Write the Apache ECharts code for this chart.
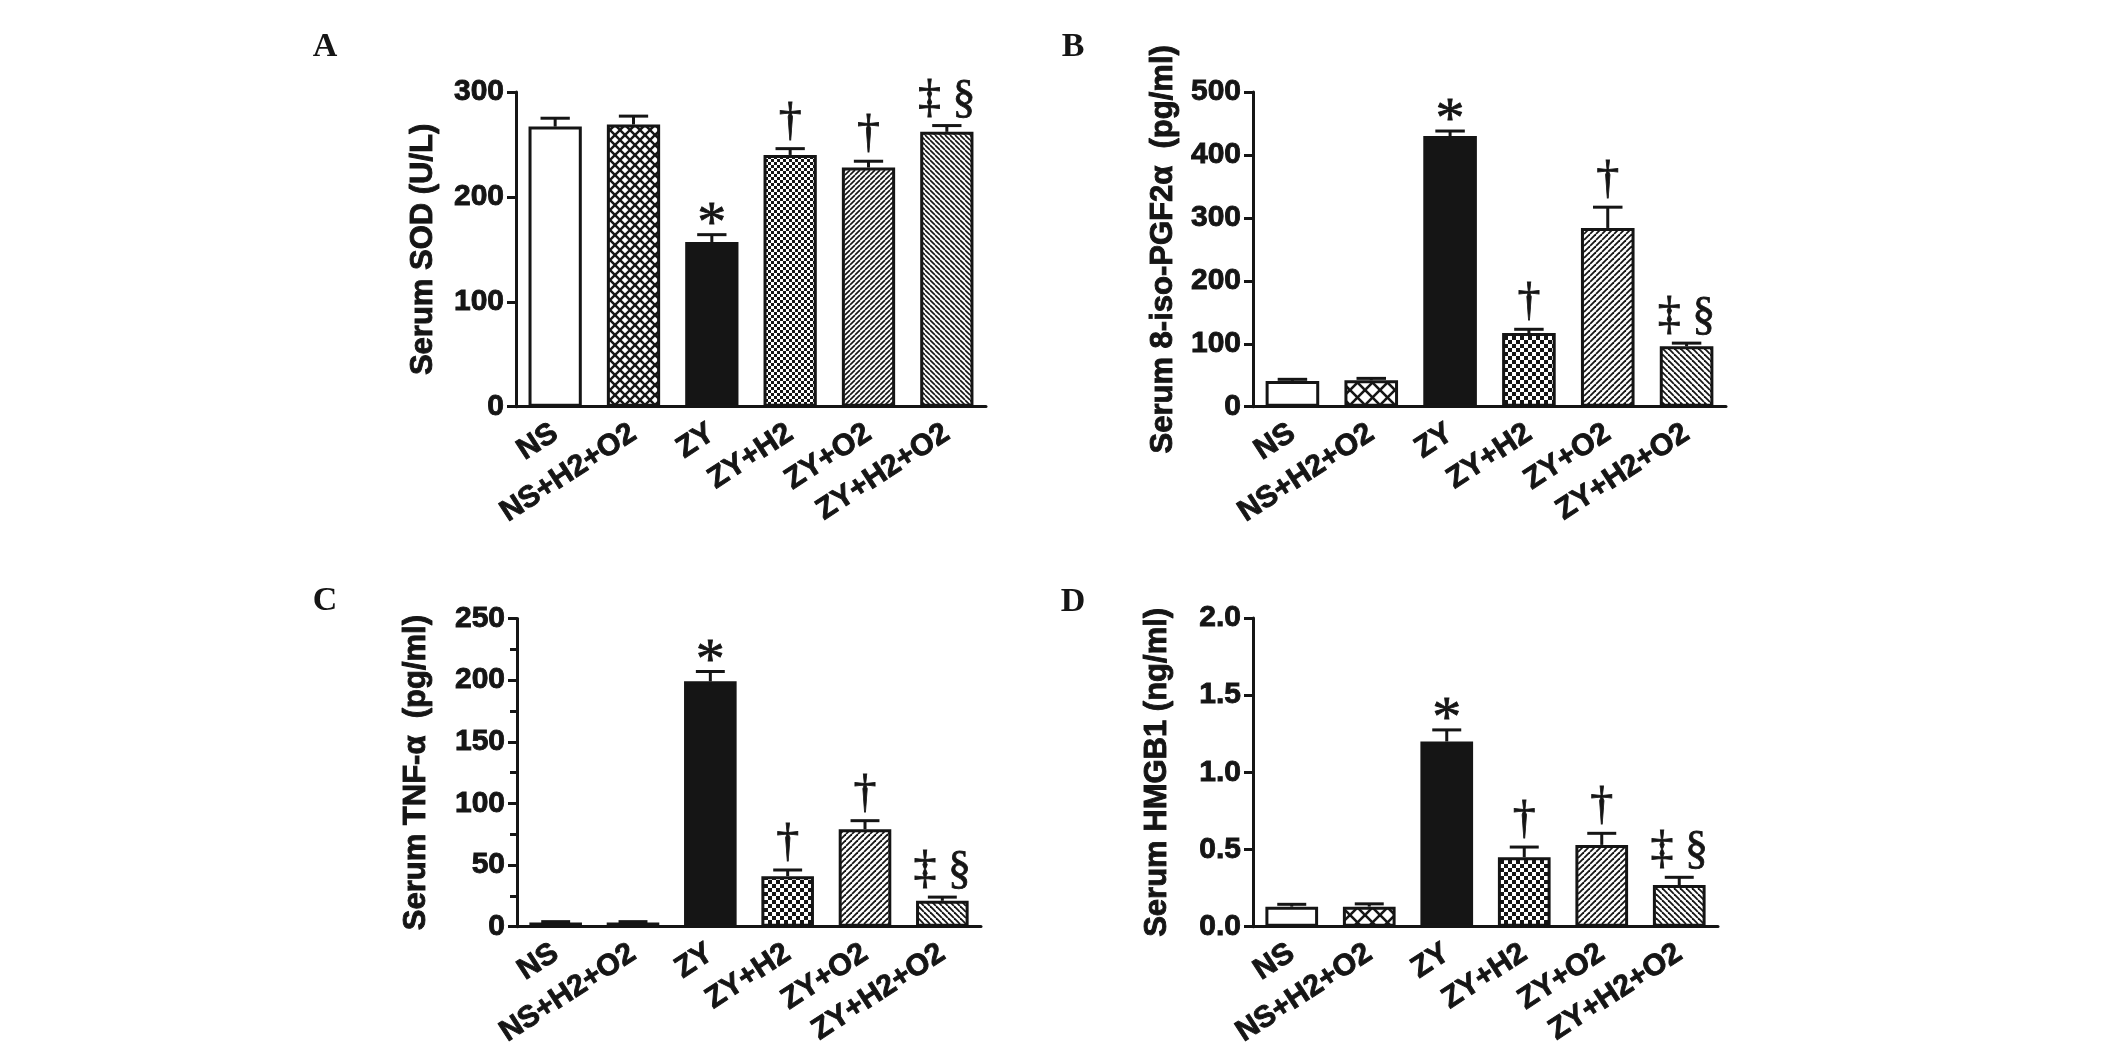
<!DOCTYPE html>
<html>
<head>
<meta charset="utf-8">
<script src="https://cdn.jsdelivr.net/npm/echarts@6/dist/echarts.min.js"></script>
<style>
  html, body { margin: 0; padding: 0; background: #fff; }
  #chart { width: 2126px; height: 1054px; }
</style>
</head>
<body>
<div id="chart"></div>
<script>
// ---------- data ----------
const categories = ['NS', 'NS+H2+O2', 'ZY', 'ZY+H2', 'ZY+O2', 'ZY+H2+O2'];
const marks = ['', '', '*', '\u2020', '\u2020', '\u2021 \u00A7'];

const sodMean = [267, 269, 157, 240, 228, 262];
const sodErr  = [8, 8, 7, 6, 6, 6];

const isoMean = [41, 42, 430, 117, 284, 96];
const isoErr  = [2.5, 3, 8, 6, 33, 5];

const tnfMean = [3.5, 3.5, 199, 41, 79, 21];
const tnfErr  = [0.6, 0.6, 8, 5, 7, 3];

const hmgbMean = [0.13, 0.13, 1.20, 0.45, 0.53, 0.27];
const hmgbErr  = [0.015, 0.018, 0.075, 0.066, 0.075, 0.05];

const panelLetters = ['A', 'B', 'C', 'D'];
const yNames = ['Serum SOD (U/L)', 'Serum 8-iso-PGF2\u03B1  (pg/ml)', 'Serum TNF-\u03B1  (pg/ml)', 'Serum HMGB1 (ng/ml)'];
const yMax = [300, 500, 250, 2.0];
const yStep = [100, 100, 50, 0.5];

// ---------- styling helpers ----------
const INK = '#151515';
const SERIF = '"Liberation Serif", "Times New Roman", Times, serif';
const SANS = '"Liberation Sans", Arial, Helvetica, sans-serif';
const heavy = { textBorderColor: INK, textBorderWidth: 0.9 };

function pattern(kind, s, lw) {
  const c = document.createElement('canvas');
  c.width = s; c.height = s;
  const g = c.getContext('2d');
  g.fillStyle = '#fff'; g.fillRect(0, 0, s, s);
  g.fillStyle = INK; g.strokeStyle = INK; g.lineWidth = lw;
  const line = (a, b, c2, d) => { g.beginPath(); g.moveTo(a, b); g.lineTo(c2, d); g.stroke(); };
  if (kind === 'cross') {
    for (const o of [-s, 0, s]) { line(o, 0, o + s, s); line(o + s, 0, o, s); }
  } else if (kind === 'checker') {
    const h = s / 2; g.fillRect(0, 0, h, h); g.fillRect(h, h, h, h);
  } else if (kind === 'fwd') {
    for (const o of [-s, 0, s]) line(o, s, o + s, 0);
  } else if (kind === 'back') {
    for (const o of [-s, 0, s]) line(o, 0, o + s, s);
  }
  return { image: c, repeat: 'repeat' };
}

function fills(fine) {
  if (fine) {
    return ['#ffffff', pattern('cross', 10, 2.4), INK, pattern('checker', 6, 1), pattern('fwd', 5, 1.6), pattern('back', 5, 1.6)];
  }
  return ['#ffffff', pattern('cross', 15, 2.6), INK, pattern('checker', 8, 1), pattern('fwd', 6, 1.8), pattern('back', 6, 1.8)];
}

const grids = [
  { left: 516, top: 92, width: 470, height: 314.7 },
  { left: 1253, top: 92, width: 473, height: 314.7 },
  { left: 517, top: 618.5, width: 464, height: 308.2 },
  { left: 1253, top: 618, width: 465, height: 308.7 }
];
const nameCenter = [93, 90, 101, 96];
const letterPos = [[325, 47], [1073, 47], [325, 601], [1073, 602]];
const means = [sodMean, isoMean, tnfMean, hmgbMean];
const errs = [sodErr, isoErr, tnfErr, hmgbErr];

const xAxes = [], yAxes = [], series = [], graphics = [];
for (let p = 0; p < 4; p++) {
  xAxes.push({
    type: 'category', gridIndex: p, data: categories,
    axisLine: { lineStyle: { color: INK, width: 3 } },
    axisTick: { alignWithLabel: true, length: 9, lineStyle: { color: INK, width: 3 } },
    axisLabel: Object.assign({ interval: 0, rotate: 33, margin: 24, color: INK, fontFamily: SANS, fontWeight: 'bold', fontSize: 30 }, heavy)
  });
  yAxes.push({
    type: 'value', gridIndex: p, min: 0, max: yMax[p], interval: yStep[p],
    name: yNames[p], nameLocation: 'middle', nameGap: nameCenter[p] - 15.5,
    nameTextStyle: Object.assign({ color: INK, fontFamily: SANS, fontWeight: 'bold', fontSize: 31 }, heavy),
    axisLine: { show: true, lineStyle: { color: INK, width: 3 } },
    axisTick: { show: true, length: 9, lineStyle: { color: INK, width: 3 } },
    minorTick: { show: p === 2, splitNumber: 2, length: 7, lineStyle: { color: INK, width: 3 } },
    splitLine: { show: false },
    axisLabel: Object.assign({
      margin: 12, color: INK, fontFamily: SANS, fontWeight: 'bold', fontSize: 30,
      formatter: p === 3 ? (v) => v.toFixed(1) : (v) => String(v)
    }, heavy)
  });
  const f = fills(p === 0);
  series.push({
    type: 'bar', xAxisIndex: p, yAxisIndex: p, barWidth: '68%',
    data: means[p].map((v, k) => ({ value: v, itemStyle: { color: f[k], borderColor: INK, borderWidth: 3 } })),
    z: 2, animation: false
  });
  const m = means[p], e = errs[p];
  series.push({
    type: 'custom', xAxisIndex: p, yAxisIndex: p, z: 5, animation: false, clip: false,
    data: m.map((v, k) => [k, v, e[k]]),
    renderItem: function (params, api) {
      const k = params.dataIndex;
      const i = api.value(0), mv = api.value(1), ev = api.value(2);
      const b = api.coord([i, mv]);
      const t = api.coord([i, mv + ev]);
      const bw = api.size([1, 0])[0] * 0.68;
      const cap = bw * 0.55;
      const ch = [
        { type: 'line', shape: { x1: b[0], y1: b[1], x2: t[0], y2: t[1] }, style: { stroke: INK, lineWidth: 3 } },
        { type: 'line', shape: { x1: t[0] - cap / 2, y1: t[1], x2: t[0] + cap / 2, y2: t[1] }, style: { stroke: INK, lineWidth: 3 } }
      ];
      const mk = marks[k];
      if (mk) {
        const star = mk === '*';
        ch.push({
          type: 'text',
          style: {
            text: mk, x: t[0], y: t[1] - (star ? 9 : 26),
            align: 'center', verticalAlign: 'middle',
            fontFamily: SERIF, fontSize: star ? 58 : 46, fill: INK,
            stroke: INK, lineWidth: 0.8
          }
        });
      }
      return { type: 'group', children: ch };
    }
  });
  graphics.push({
    type: 'text', x: letterPos[p][0], y: letterPos[p][1],
    style: { text: panelLetters[p], align: 'center', verticalAlign: 'middle', fontFamily: SERIF, fontWeight: 'bold', fontSize: 34, fill: INK }
  });
}

const chart = echarts.init(document.getElementById('chart'), null, { renderer: 'canvas' });
chart.setOption({
  backgroundColor: '#ffffff',
  animation: false,
  grid: grids,
  xAxis: xAxes,
  yAxis: yAxes,
  series: series,
  graphic: graphics
});
</script>
</body>
</html>
